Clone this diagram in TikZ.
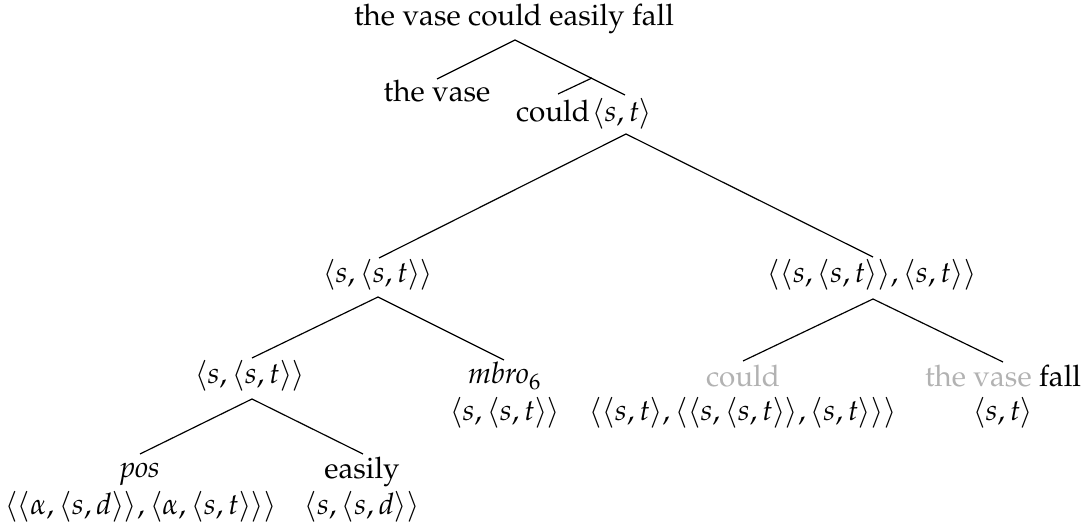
\documentclass[tikz,border=0pt]{standalone}
\usepackage[T1]{fontenc}
\usepackage{mathpazo}
\definecolor{ghost}{gray}{0.70}
\begin{document}
\begin{tikzpicture}[x=0.3378pt,y=-0.3378pt,
  lbl/.style={anchor=base,inner sep=0pt,font=\normalsize},
  branch/.style={line width=0.4pt,black}]
\useasboundingbox (0,0) rectangle (1086,530);
% labels
\node[lbl] (root) at (514,26) {the vase could easily fall};
\node[lbl] (thevase) at (437,102) {the vase};
\node[lbl] (could) at (553,122) {could};
\node[lbl] (st) at (622,122) {$\langle s,t\rangle$};
\node[lbl] (ml) at (378,283) {$\langle s,\langle s,t\rangle\rangle$};
\node[lbl] (mr) at (872,283) {$\langle\langle s,\langle s,t\rangle\rangle,\langle s,t\rangle\rangle$};
\node[lbl] (ll) at (250,384) {$\langle s,\langle s,t\rangle\rangle$};
\node[lbl] (mbro) at (505,384) {\textit{mbro}$_6$};
\node[lbl] (mbrot) at (505,421) {$\langle s,\langle s,t\rangle\rangle$};
\node[lbl] (gcould) at (743,387) {\textcolor{ghost}{could}};
\node[lbl] (gcouldt) at (743,421) {$\langle\langle s,t\rangle,\langle\langle s,\langle s,t\rangle\rangle,\langle s,t\rangle\rangle\rangle$};
\node[lbl] (fall) at (1003,387) {\textcolor{ghost}{the vase} fall};
\node[lbl] (fallt) at (1003,421) {$\langle s,t\rangle$};
\node[lbl] (pos) at (140,478) {\textit{pos}};
\node[lbl] (post) at (141,515) {$\langle\langle \alpha,\langle s,d\rangle\rangle,\langle \alpha,\langle s,t\rangle\rangle\rangle$};
\node[lbl] (easily) at (362,479) {easily};
\node[lbl] (easilyt) at (362,515) {$\langle s,\langle s,d\rangle\rangle$};
% branch points
\coordinate (rA) at (515,40);
\coordinate (rL) at (437,79);
\coordinate (rR) at (625,95);
\coordinate (cA) at (592,78);
\coordinate (cL) at (558,94);
\coordinate (sA) at (626,134);
\coordinate (sL) at (379,258);
\coordinate (sR) at (873,257);
\coordinate (mlA) at (378,297);
\coordinate (mlL) at (252,358);
\coordinate (mlR) at (504,360);
\coordinate (mrA) at (873,299);
\coordinate (mrL) at (743,361);
\coordinate (mrR) at (1003,362);
\coordinate (llA) at (252,399);
\coordinate (llL) at (140,454);
\coordinate (llR) at (363,454);
% branches
\draw[branch] (rL) -- (rA) -- (rR);
\draw[branch] (cL) -- (cA);
\draw[branch] (sL) -- (sA) -- (sR);
\draw[branch] (mlL) -- (mlA) -- (mlR);
\draw[branch] (mrL) -- (mrA) -- (mrR);
\draw[branch] (llL) -- (llA) -- (llR);
\end{tikzpicture}
\end{document}
